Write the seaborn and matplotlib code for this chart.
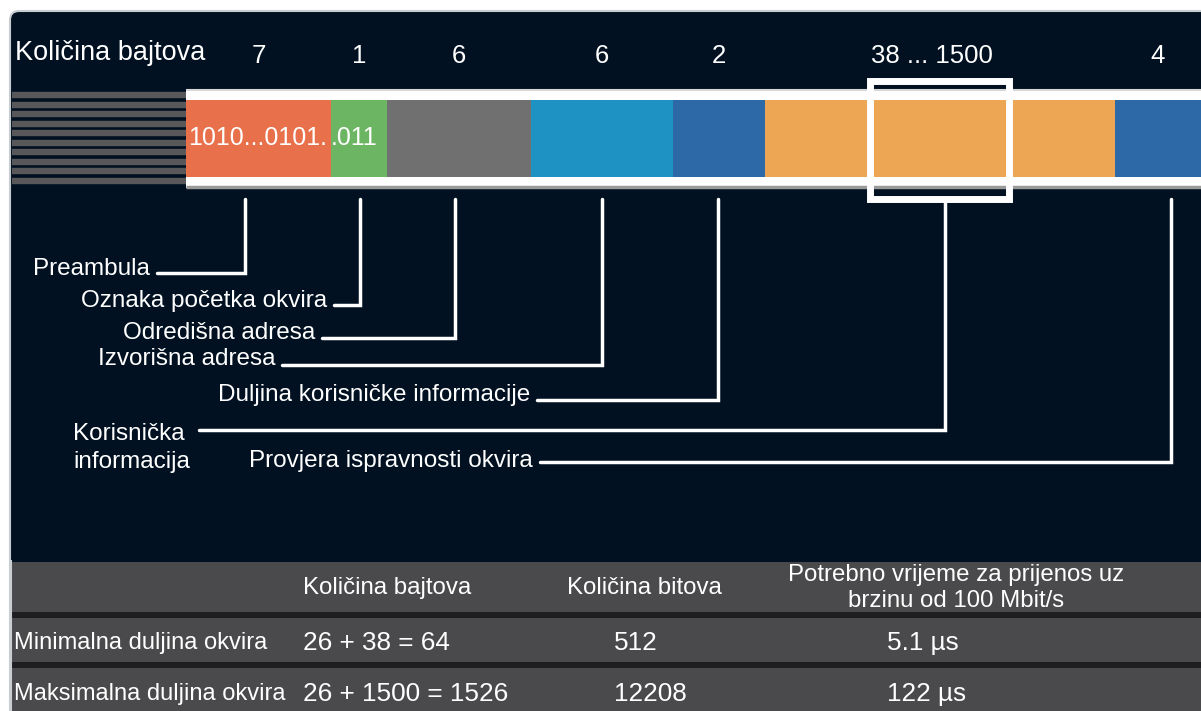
import numpy as np
import pandas as pd
import matplotlib.pyplot as plt
import seaborn as sns
from matplotlib.patches import Rectangle, FancyBboxPatch

# Frame fields (Ethernet frame structure)
fields = ['Preambula', 'Oznaka početka okvira', 'Odredišna adresa', 'Izvorišna adresa',
          'Duljina korisničke informacije', 'Korisnička\ninformacija',
          'Provjera ispravnosti okvira']
byte_labels = ['7', '1', '6', '6', '2', '38 ... 1500', '4']
bit_text = ['1010...0101.', '.011']

# Table values
table_header = ['', 'Količina bajtova', 'Količina bitova',
                'Potrebno vrijeme za prijenos uz\nbrzinu od 100 Mbit/s']
row_names = ['Minimalna duljina okvira', 'Maksimalna duljina okvira']
row_bytes = ['26 + 38 = 64', '26 + 1500 = 1526']
row_bits = ['512', '12208']
row_time = ['5.1 µs', '122 µs']

# Layout (pixels)
seg_left = [186, 331, 387, 531, 673, 765, 1115]
seg_right = [331, 387, 531, 673, 765, 1115, 1201]
seg_colors = ['#E8704A', '#6BB563', '#707070', '#1F92C4', '#2D69A6', '#EDA653', '#2D69A6']
leader_x = [245, 360, 455, 602, 718, 945, 1171]
leader_y = [273, 305, 338, 365, 400, 430, 462]
line_start = [157, 334, 322, 282, 537, 199, 540]
label_y = [269, 301, 333, 359, 395, 448, 461]

navy = '#011121'
grey_row = '#4A4A4C'

sns.set_theme(style='white')
plt.rcParams['font.family'] = ['Liberation Sans', 'DejaVu Sans']

fig = plt.figure(figsize=(12.01, 7.11), dpi=100)
ax = fig.add_axes([0, 0, 1, 1])
ax.set_xlim(0, 1201)
ax.set_ylim(711, 0)
ax.axis('off')

# panel background
ax.add_patch(FancyBboxPatch((10, 11), 1220, 720, boxstyle='round,pad=0,rounding_size=9',
                            facecolor=navy, edgecolor='#C8CDD2', linewidth=1.5, zorder=0))

# left striped lines
stripe_y = np.arange(95, 188, 9.55)
ax.hlines(stripe_y[:10], 12, 186, colors='#58585A', linewidth=4.6, zorder=1)

# white frame around the bar
ax.add_patch(Rectangle((186, 89), 1020, 99, facecolor='white', edgecolor='none', zorder=1))
ax.hlines([186.5], 186, 1201, colors='#9A9A9A', linewidth=2.5, zorder=1.5)
ax.hlines([89.5], 186, 1201, colors='#D8D8D8', linewidth=1.5, zorder=1.5)

# colored segments
seg = pd.DataFrame({'left': seg_left, 'right': seg_right, 'color': seg_colors})
ax.barh([138.5] * len(seg), seg['right'] - seg['left'], left=seg['left'], height=77,
        color=seg['color'], edgecolor='none', zorder=2)

ax.text(188, 138, bit_text[0], color='white', fontsize=18, va='center', ha='left', zorder=3)
ax.text(331, 138, bit_text[1], color='white', fontsize=18, va='center', ha='left', zorder=3)

# highlight box over the payload
ax.add_patch(Rectangle((870, 80.5), 138.5, 118, facecolor='none', edgecolor='white',
                       linewidth=5, zorder=4))

# byte counts
ax.text(15, 53, 'Količina bajtova', color='white', fontsize=19.5, va='center', ha='left')
for i, lab in enumerate(byte_labels):
    cx = (seg_left[i] + seg_right[i]) / 2 if i != 5 else 932
    ax.text(cx, 56, lab, color='white', fontsize=18.5, va='center', ha='center')

# leader lines and labels
for i, name in enumerate(fields):
    top = 202 if i == 5 else 199
    ax.plot([line_start[i], leader_x[i], leader_x[i]], [leader_y[i], leader_y[i], top],
            color='white', linewidth=2.5, solid_joinstyle='miter', zorder=3)
    if i == 5:
        ax.text(73, label_y[i], name, color='white', fontsize=17.5, va='center', ha='left',
                linespacing=1.3)
    else:
        ax.text(line_start[i] - 7, label_y[i], name, color='white', fontsize=17.5,
                va='center', ha='right')

# table
ax.add_patch(Rectangle((12, 562), 1200, 150, facecolor='#1E1E20', edgecolor='none', zorder=0.5))
for y0, h in [(562, 50), (618, 44), (668, 45)]:
    ax.add_patch(Rectangle((12, y0), 1200, h, facecolor=grey_row, edgecolor='none', zorder=0.6))
ax.vlines([11], 560, 711, colors='#C8CDD2', linewidth=1.5, zorder=0.7)

ax.text(303, 588, table_header[1], color='white', fontsize=17.3, va='center', ha='left')
ax.text(567, 588, table_header[2], color='white', fontsize=17.3, va='center', ha='left')
ax.text(956, 588, table_header[3], color='white', fontsize=17.3, va='center', ha='center',
        linespacing=1.2)

for r, yc in enumerate([643, 694]):
    ax.text(14, yc, row_names[r], color='white', fontsize=17, va='center', ha='left')
    ax.text(303, yc, row_bytes[r], color='white', fontsize=18.8, va='center', ha='left')
    ax.text(614, yc, row_bits[r], color='white', fontsize=18.8, va='center', ha='left')
    ax.text(887, yc, row_time[r], color='white', fontsize=18.8, va='center', ha='left')

fig.savefig('out.png', dpi=100, facecolor='white')
